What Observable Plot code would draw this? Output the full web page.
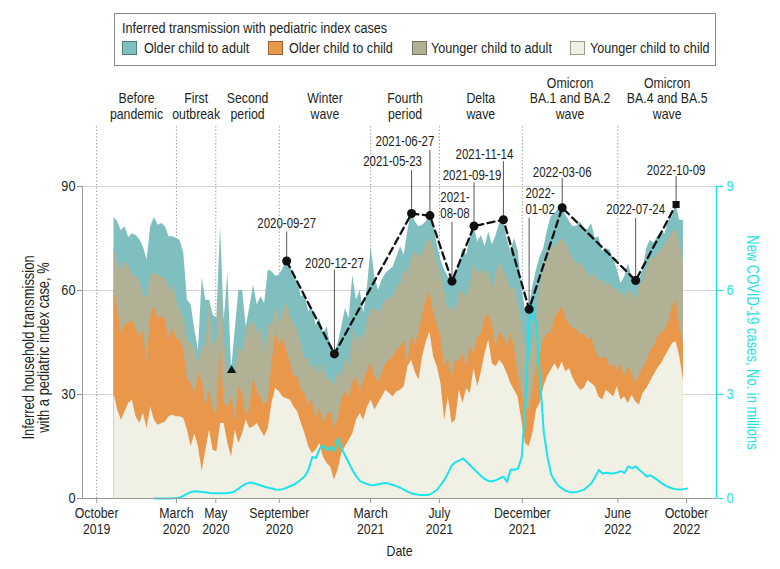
<!DOCTYPE html>
<html>
<head>
<meta charset="utf-8">
<script src="https://cdn.jsdelivr.net/npm/d3@7"></script>
<script src="https://cdn.jsdelivr.net/npm/@observablehq/plot@0.6"></script>
<style>
  html, body { margin: 0; padding: 0; background: #fff; }
  #wrap { position: relative; width: 780px; height: 569px; overflow: hidden;
    font-family: "Liberation Sans", Arial, sans-serif; color: #231f20; }
  #chart { position: absolute; left: 0; top: 0; }
  #legend { position: absolute; left: 114px; top: 13px; width: 602px; height: 53px; box-sizing: border-box;
    border: 1px solid #8a8a8a; background: #fff; }
  .lg-title, .lg-tx { position: absolute; font-size: 15.4px; line-height: 18px; white-space: nowrap;
    transform: scaleX(0.82); transform-origin: 0 50%; }
  .lg-sw { position: absolute; width: 15px; height: 14px; box-sizing: border-box; border: 1px solid rgba(0,0,0,0.35); }
</style>
</head>
<body>
<div id="wrap">
  <div id="chart"></div>
  <div id="legend"></div>
</div>
<script>
// ---------------- DATA ----------------
// Weekly estimates (Sundays), first week 2019-11-03, last week 2022-10-23
const firstWeek = "2019-11-03";
const lastWeekStop = "2022-10-24";

// Stacked boundaries (cumulative %), bottom to top
// Younger child to child
const cumYoungerChildToChild = [
 30.3,25.5,22.6,25.0,27.4,28.4,23.6,21.6,24.5,20.2,
 26.4,22.6,21.1,21.6,22.1,23.6,24.0,23.6,23.6,23.1,
 19.7,14.9,18.7,14.9,7.7,13.9,19.7,13.9,13.5,21.6,
 21.6,15.9,12.0,19.7,15.9,18.7,22.6,20.2,20.7,21.6,
 19.7,17.8,20.2,27.4,31.7,30.8,29.3,28.8,28.4,26.4,
 25.0,21.6,18.7,14.9,13.0,13.9,15.9,12.0,10.1,9.1,
 5.3,8.2,13.0,14.9,16.8,18.7,22.6,24.5,22.6,26.4,
 28.4,25.5,27.4,29.3,31.2,30.3,29.3,30.8,31.2,
 32.2,38.0,39.9,36.5,34.1,40.9,45.2,48.1,40.9,38.0,
 33.2,22.6,29.3,21.6,22.6,31.2,27.4,31.7,30.3,37.5,
 32.2,36.5,41.8,45.7,38.9,38.0,39.9,38.5,36.1,33.2,
 31.2,29.3,22.6,15.9,14.9,18.7,25.5,27.4,32.2,
 35.1,37.0,38.9,37.0,39.4,36.5,37.5,34.6,32.7,31.2,
 31.7,34.1,33.2,32.2,29.3,28.4,31.2,30.3,29.3,32.2,
 28.4,29.3,27.4,29.8,27.9,26.9,30.3,31.7,33.7,35.6,
 37.5,38.9,40.9,42.8,44.7,45.2,40.9,34.1
];
// + Older child to child
const cumOlderChildToChild = [
 60.1,54.3,47.6,50.0,50.5,51.4,48.6,46.6,48.1,38.9,
 52.4,55.3,51.9,52.4,51.4,45.7,49.0,46.2,45.7,42.8,
 34.1,33.2,30.3,36.1,33.7,26.4,31.2,25.9,24.5,42.8,
 27.4,26.4,29.3,22.6,32.7,29.8,23.6,26.4,34.6,31.2,
 28.8,26.9,28.4,38.9,48.1,44.2,46.2,42.8,38.9,35.1,
 35.1,31.2,30.3,26.4,28.8,22.6,26.4,21.6,24.0,25.0,
 20.2,22.6,28.4,30.8,29.3,33.2,35.1,31.2,33.7,37.0,
 38.9,35.1,33.2,36.1,38.9,39.9,40.9,42.8,43.7,
 45.7,38.9,47.1,44.2,47.6,52.9,57.2,59.6,53.4,50.0,
 46.6,38.0,40.4,34.6,39.9,39.4,41.8,38.0,43.7,41.8,
 46.6,47.6,51.9,53.4,50.0,43.7,48.1,46.6,43.7,47.6,
 43.7,36.1,30.3,26.4,25.5,31.2,38.0,41.8,45.7,
 47.6,47.6,51.9,53.8,55.3,51.9,50.0,49.0,48.6,47.1,
 47.6,45.7,46.6,42.8,40.4,40.4,40.9,38.0,38.5,37.0,
 38.5,35.1,38.0,36.1,33.2,35.6,37.5,39.4,42.3,43.7,
 46.6,47.6,48.6,51.0,55.3,57.2,49.5,44.7
];
// + Younger child to adult
const cumYoungerChildToAdult = [
 72.6,67.3,65.9,68.3,67.3,64.4,63.9,63.0,58.2,58.2,
 64.4,64.9,64.4,63.7,63.5,60.1,61.5,57.2,54.3,51.9,
 45.7,44.7,43.3,38.9,43.7,44.2,57.2,43.7,45.7,60.1,
 45.7,37.0,36.5,35.6,43.7,41.8,48.1,50.5,51.0,47.6,
 49.5,41.8,50.5,49.5,55.8,50.5,53.8,56.7,52.9,50.5,
 48.6,44.7,39.9,40.9,37.0,38.9,35.6,38.9,34.1,34.6,
 32.2,36.5,35.1,40.9,38.0,48.6,44.7,47.6,45.7,51.4,
 54.3,54.8,53.4,55.3,57.2,57.7,58.2,61.1,62.0,
 66.3,64.4,69.2,71.6,69.2,71.2,73.6,75.0,72.1,67.8,
 64.9,60.1,54.3,55.8,53.4,60.1,59.1,58.2,62.0,67.8,
 64.9,65.9,64.4,66.3,60.6,64.9,67.8,65.9,63.5,60.1,
 61.1,56.2,50.5,43.7,38.9,45.7,53.4,61.1,66.8,
 71.2,73.1,72.1,74.0,75.0,73.6,71.2,69.2,67.3,68.3,
 66.3,64.9,63.5,64.9,62.5,63.0,61.5,62.0,60.1,60.6,
 59.1,58.2,60.1,59.6,57.2,61.1,63.0,65.9,69.7,68.8,
 70.7,71.6,73.1,75.0,76.9,77.4,73.6,68.3
];
// + Older child to adult (total)
const cumOlderChildToAdult = [
 81.1,79.8,77.2,78.4,75.3,76.4,75.9,74.7,72.6,68.8,
 78.4,81.1,78.8,79.3,78.4,75.5,75.5,75.0,74.5,70.7,
 57.2,55.8,48.6,42.8,63.5,57.2,57.2,52.9,51.9,78.4,
 51.4,64.9,37.0,48.6,60.1,60.1,49.5,55.3,61.5,55.8,
 58.2,56.2,65.9,65.4,64.1,64.4,66.3,68.5,66.8,63.7,
 62.5,58.2,58.7,53.8,55.3,50.0,51.9,47.6,49.5,43.7,
 41.7,44.7,49.5,54.8,51.9,64.4,57.2,60.1,53.4,61.1,
 72.6,63.9,60.1,63.0,64.9,65.9,66.8,69.7,72.6,
 70.2,77.4,82.2,79.8,78.4,78.8,79.8,81.6,78.8,73.1,
 68.8,65.9,63.9,62.7,64.9,67.8,72.1,70.2,75.5,78.6,
 74.0,75.9,72.6,76.9,73.1,75.9,79.3,80.4,75.0,71.2,
 75.0,71.6,61.1,54.3,54.6,61.1,65.9,69.7,72.1,
 77.4,81.3,82.2,83.4,83.9,81.7,79.8,78.4,78.6,79.8,
 77.4,77.6,79.3,75.0,75.5,71.2,72.1,71.6,69.2,65.9,
 62.0,63.9,67.8,63.9,62.9,63.0,65.9,72.1,74.5,73.6,
 75.5,76.9,76.4,80.3,81.3,84.8,80.3,80.3
];

// Weekly new COVID-19 cases (millions), first week 2020-01-19
const casesFirstWeek = "2020-01-19";
const casesStop = "2022-10-31";
const newCasesMillions = [
 0,0,0,0,0.002,0.005,0.01,0.03,0.08,0.14,
 0.19,0.21,0.2,0.19,0.18,0.16,0.15,0.15,0.15,0.15,
 0.16,0.17,0.22,0.29,0.37,0.43,0.46,0.44,0.41,0.375,
 0.34,0.31,0.29,0.26,0.25,0.27,0.31,0.36,0.4,0.47,
 0.56,0.65,0.85,1.2,1.17,1.44,1.53,1.39,1.49,1.37,
 1.73,1.44,1.22,1.01,0.8,0.63,0.5,0.45,0.42,0.38,
 0.39,0.41,0.43,0.45,0.42,0.39,0.35,0.31,0.25,0.19,
 0.15,0.125,0.11,0.1,0.1,0.115,0.18,0.26,0.4,0.55,
 0.75,0.96,1.05,1.1,1.15,1.06,0.95,0.84,0.74,0.64,
 0.56,0.5,0.5,0.53,0.58,0.63,0.48,0.84,0.83,0.87,
 1.2,2.8,5.1,5.56,5.0,3.4,1.9,1.2,0.7,0.5,
 0.36,0.29,0.22,0.19,0.18,0.19,0.22,0.26,0.35,0.45,
 0.63,0.82,0.72,0.74,0.73,0.72,0.75,0.79,0.74,0.93,
 0.87,0.93,0.82,0.74,0.63,0.67,0.6,0.53,0.45,0.38,
 0.33,0.29,0.27,0.26,0.27,0.29
];

// Highlighted weeks (total inferred transmission, %)
const milestoneDates = ["2020-09-27","2020-12-27","2021-05-23","2021-06-27","2021-08-08","2021-09-19","2021-11-14","2022-01-02","2022-03-06","2022-07-24","2022-10-09"];
const milestoneLabels = ["2020-09-27","2020-12-27","2021-05-23","2021-06-27","2021-\n08-08","2021-09-19","2021-11-14","2022-\n01-02","2022-03-06","2022-07-24","2022-10-09"];
const milestoneValues = [68.5, 41.7, 82.2, 81.6, 62.7, 78.6, 80.4, 54.6, 83.9, 62.9, 84.8];
const triangleDate = "2020-06-14";
const triangleValue = 37.0;

// Pandemic periods
const periodStarts = ["2019-10-01","2020-03-01","2020-05-15","2020-09-13","2021-03-06","2021-07-15","2021-12-20","2022-06-20"];
const periodNames = ["Before\npandemic","First\noutbreak","Second\nperiod","Winter\nwave","Fourth\nperiod","Delta\nwave","Omicron\nBA.1 and BA.2\nwave","Omicron\nBA.4 and BA.5\nwave"];

// x-axis ticks
const tickDates = ["2019-10-01","2020-03-01","2020-05-15","2020-09-13","2021-03-06","2021-07-15","2021-12-20","2022-06-20","2022-10-29"];
const tickLabels = ["October\n2019","March\n2020","May\n2020","September\n2020","March\n2021","July\n2021","December\n2021","June\n2022","October\n2022"];

// Legend
const seriesNames = ["Older child to adult","Older child to child","Younger child to adult","Younger child to child"];
const seriesColors = ["#80bfbf","#e9974a","#b1b195","#f0f0e5"];

// ---------------- LAYOUT / STYLE ----------------
const W = 780, H = 569;
const M = {top: 186, right: 64, bottom: 71, left: 82};
const xDomain = [new Date("2019-09-04"), new Date("2022-12-25")];
const pxPerUnit = (H - M.top - M.bottom) / 90;
const cyan = "#1de3ec";
const axisGray = "#9a9a9a";
const textColor = "#231f20";
const FONT = '"Liberation Sans", Arial, sans-serif';
const CONDENSE = 0.82; // emulate a narrow face
// label placement (pixels relative to the marker): text centre dx, dy; leader top
const labelLayout = [
  {dx: 0, dy: -38, lead: -29},
  {dx: 0, dy: -91, lead: -84},
  {dx: -19, dy: -53, lead: -43},
  {dx: -25, dy: -75, lead: -65},
  {dx: 3, dy: -76, lead: -59},
  {dx: -2, dy: -51, lead: -43},
  {dx: -19, dy: -66, lead: -58},
  {dx: 11, dy: -108, lead: -91},
  {dx: 0, dy: -36, lead: -29},
  {dx: 0, dy: -71, lead: -62},
  {dx: 0, dy: -35, lead: -28}
];

// ---------------- BUILD ----------------
const weeks = d3.utcWeek.range(new Date(firstWeek), new Date(lastWeekStop));
const rows = weeks.map((date, i) => ({
  date,
  ycc: cumYoungerChildToChild[i],
  occ: cumOlderChildToChild[i],
  yca: cumYoungerChildToAdult[i],
  oca: cumOlderChildToAdult[i]
}));
const caseWeeks = d3.utcWeek.range(new Date(casesFirstWeek), new Date(casesStop));
const cases = caseWeeks.map((date, i) => ({date, cases: newCasesMillions[i]}));

const milestones = milestoneDates.map((d, i) => ({date: new Date(d), value: milestoneValues[i], label: milestoneLabels[i], ...labelLayout[i]}));
const circles = milestones.slice(0, -1);
const square = milestones.slice(-1);
const triangle = [{date: new Date(triangleDate), value: triangleValue}];

const pStarts = periodStarts.map(d => new Date(d));
const periods = periodNames.map((name, i) => {
  const a = pStarts[i], b = i + 1 < pStarts.length ? pStarts[i + 1] : xDomain[1];
  return {name, mid: new Date((+a + +b) / 2)};
});
const ticks = tickDates.map(d => new Date(d));
const tickLabelByTime = new Map(ticks.map((t, i) => [+t, tickLabels[i]]));

const labelMarks = milestones.flatMap(m => [
  Plot.ruleX([m], {x: "date", y1: "value", y2: d => d.value - d.lead / pxPerUnit, stroke: "#555", strokeWidth: 1}),
  Plot.text([m], {x: "date", y: "value", text: "label", dx: m.dx, dy: m.dy, lineAnchor: "middle", lineHeight: 1.12,
    fontSize: 14, fill: textColor})
]);

const chart = Plot.plot({
  width: W, height: H,
  marginTop: M.top, marginRight: M.right, marginBottom: M.bottom, marginLeft: M.left,
  style: {fontFamily: FONT, fontSize: "15px", color: textColor, background: "transparent", overflow: "visible"},
  x: {type: "utc", domain: xDomain},
  y: {domain: [0, 90]},
  marks: [
    Plot.gridY([30, 60, 90], {stroke: "#d4d4d4", strokeOpacity: 1}),
    Plot.ruleX(pStarts, {y1: 0, y2: 90 + 61 / pxPerUnit, stroke: "#8c8c8c", strokeDasharray: "1.2,2.2"}),
    // stacked bands (drawn top-down from the baseline to avoid seams)
    Plot.areaY(rows, {x: "date", y1: 0, y2: "oca", fill: seriesColors[0]}),
    Plot.areaY(rows, {x: "date", y1: 0, y2: "yca", fill: seriesColors[2]}),
    Plot.areaY(rows, {x: "date", y1: 0, y2: "occ", fill: seriesColors[1]}),
    Plot.areaY(rows, {x: "date", y1: 0, y2: "ycc", fill: seriesColors[3]}),
    // cases on secondary axis (9 million <-> 90 %)
    Plot.line(cases, {x: "date", y: d => d.cases * 10, stroke: cyan, strokeWidth: 2}),
    // axes
    Plot.ruleX([xDomain[0]], {y1: 0, y2: 90, stroke: axisGray}),
    Plot.ruleY([0], {stroke: axisGray}),
    Plot.ruleX([xDomain[1]], {y1: 0, y2: 90, stroke: cyan, strokeWidth: 1.5}),
    Plot.axisY({anchor: "left", ticks: [0, 30, 60, 90], tickSize: 5, tickPadding: 2, stroke: axisGray, fill: textColor, fontSize: 15.5, label: null}),
    Plot.axisY({anchor: "right", ticks: [0, 30, 60, 90], tickFormat: d => d / 10, tickSize: 6, tickPadding: 4, stroke: cyan, fill: cyan, fontSize: 15.5, label: null}),
    Plot.axisX({ticks, tickFormat: d => tickLabelByTime.get(+d), tickSize: 5, tickPadding: 3, stroke: axisGray, fill: textColor, fontSize: 15, lineHeight: 1.07, label: null}),
    Plot.text(["Date"], {frameAnchor: "bottom", dy: 53, lineAnchor: "middle", fontSize: 15, fill: textColor}),
    Plot.text(["Inferred household transmission\nwith a pediatric index case, %"], {frameAnchor: "left", dx: -46, dy: 5, rotate: -90, textAnchor: "middle", lineAnchor: "middle", lineHeight: 0.98, fontSize: 15.8, fill: textColor}),
    Plot.text(["New COVID-19 cases, No. in millions"], {frameAnchor: "right", dx: 36, rotate: 90, textAnchor: "middle", lineAnchor: "middle", fontSize: 15.8, fill: cyan}),
    // period labels
    Plot.text(periods, {x: "mid", y: 90, text: "name", dy: -68, lineAnchor: "bottom", lineHeight: 1.03, fontSize: 15, fill: textColor}),
    // trend line and markers
    Plot.line(milestones, {x: "date", y: "value", stroke: "#111", strokeWidth: 2.3, strokeDasharray: "7,4.5"}),
    ...labelMarks,
    Plot.dot(circles, {x: "date", y: "value", r: 4.5, fill: "#111", stroke: "none"}),
    Plot.dot(square, {x: "date", y: "value", symbol: "square", r: 4, fill: "#111", stroke: "none"}),
    Plot.dot(triangle, {x: "date", y: "value", symbol: "triangle", r: 3.4, fill: "#111", stroke: "none"})
  ]
});
document.getElementById("chart").appendChild(chart);

// Narrow the glyphs of every SVG text (no condensed face is installed)
chart.querySelectorAll("text").forEach(t => {
  const tf = t.getAttribute("transform") || "";
  if (tf.includes("rotate")) {
    // rotated titles: scale along the reading direction, about the anchor point
    t.setAttribute("transform", tf + ` scale(${CONDENSE},1)`);
    return;
  }
  const spans = t.querySelectorAll("tspan");
  (spans.length ? Array.from(spans) : [t]).forEach(el => {
    const L = el.getComputedTextLength();
    if (L > 0) {
      el.setAttribute("textLength", (L * CONDENSE).toFixed(2));
      el.setAttribute("lengthAdjust", "spacingAndGlyphs");
    }
  });
});

// ---------------- LEGEND ----------------
const legend = document.getElementById("legend");
const lgTitle = document.createElement("div");
lgTitle.className = "lg-title";
lgTitle.textContent = "Inferred transmission with pediatric index cases";
lgTitle.style.left = (122 - 115) + "px";
lgTitle.style.top = (28 - 9 - 14) + "px";
legend.appendChild(lgTitle);
const swLeft = [122, 268, 412, 570], txLeft = [144, 289, 431, 590];
seriesNames.forEach((name, i) => {
  const sw = document.createElement("div");
  sw.className = "lg-sw";
  sw.style.background = seriesColors[i];
  sw.style.left = (swLeft[i] - 115) + "px";
  sw.style.top = (41 - 14) + "px";
  legend.appendChild(sw);
  const tx = document.createElement("div");
  tx.className = "lg-tx";
  tx.textContent = name;
  tx.style.left = (txLeft[i] - 115) + "px";
  tx.style.top = (48 - 9 - 14) + "px";
  legend.appendChild(tx);
});
</script>
</body>
</html>
